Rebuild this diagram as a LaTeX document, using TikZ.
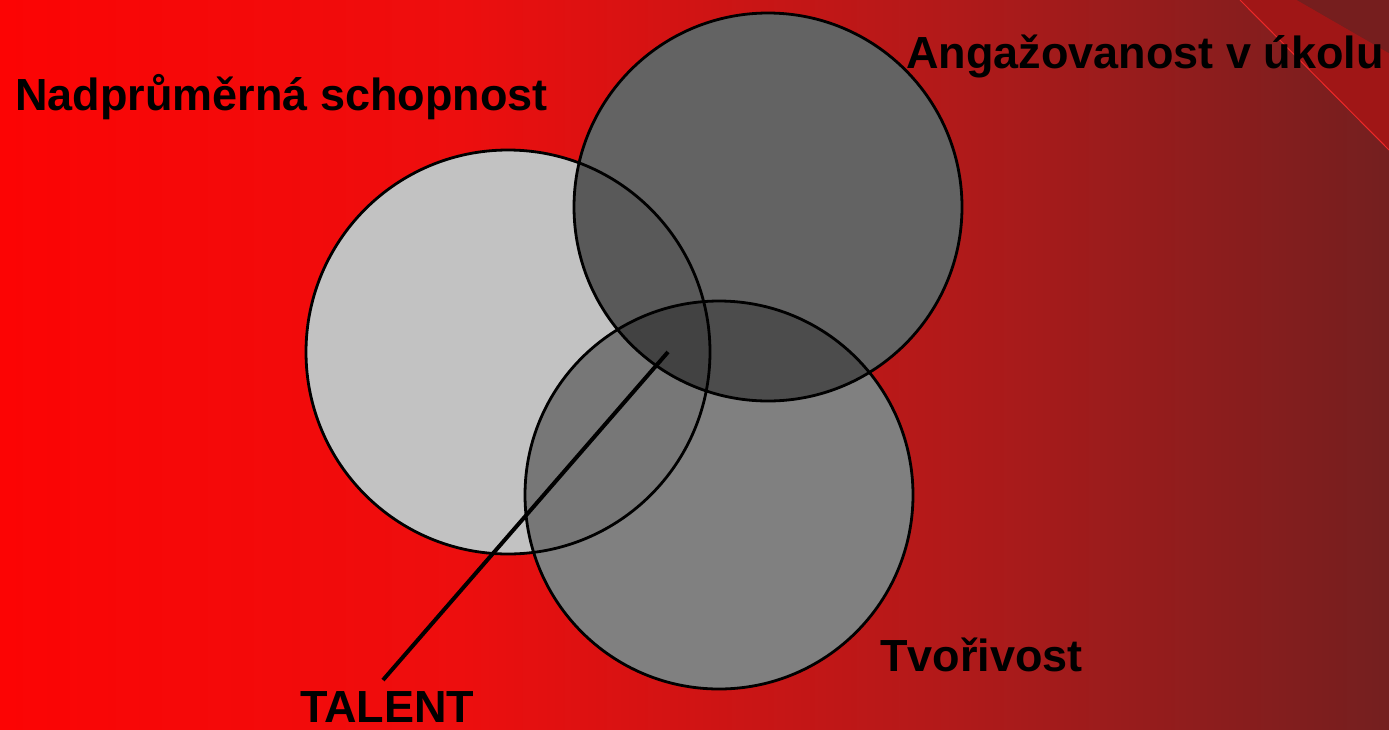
\documentclass[tikz,border=0pt]{standalone}
\usepackage{fontspec}
\setmainfont{Liberation Sans}
\usetikzlibrary{positioning}

\definecolor{bgleft}{RGB}{252,4,4}
\definecolor{bgmidA}{RGB}{237,14,14}
\definecolor{bgmidB}{RGB}{176,26,26}
\definecolor{bgright}{RGB}{116,31,31}
\definecolor{bandred}{RGB}{160,22,22}
\definecolor{cornerred}{RGB}{118,30,30}
\definecolor{edgered}{RGB}{236,40,40}
\definecolor{grayA}{RGB}{194,194,194}
\definecolor{grayB}{RGB}{99,99,99}
\definecolor{grayC}{RGB}{128,128,128}
\definecolor{grayAB}{RGB}{89,89,89}
\definecolor{grayAC}{RGB}{119,119,119}
\definecolor{grayBC}{RGB}{76,76,76}
\definecolor{grayABC}{RGB}{66,66,66}

\newcommand{\rA}{202}
\newcommand{\rB}{194}
\newcommand{\rC}{194}

\begin{document}
\begin{tikzpicture}[x=1pt, y=-1pt,
    lbl/.style={font=\bfseries\fontsize{45}{50}\selectfont, inner sep=0pt, anchor=base west},
    ring/.style={draw=black, line width=2.8pt},
    talentline/.style={draw=black, line width=4pt}]
  \useasboundingbox (0,0) rectangle (1389,729);
  % background
  \shade[left color=bgleft, right color=bgmidA] (0,0) rectangle (461,729);
  \shade[left color=bgmidA, right color=bgmidB] (460,0) rectangle (961,729);
  \shade[left color=bgmidB, right color=bgright] (960,0) rectangle (1389,729);
  \fill[bandred] (1240,0) -- (1389,150) -- (1389,53) -- (1297,0) -- cycle;
  \fill[cornerred] (1297,0) -- (1389,53) -- (1389,0) -- cycle;
  \draw[edgered, line width=1pt] (1240,0) -- (1389,150);

  \coordinate (cA) at (508,352);
  \coordinate (cB) at (768,207);
  \coordinate (cC) at (719,495);

  % circles
  \fill[grayA] (cA) circle[radius=\rA];
  \fill[grayB] (cB) circle[radius=\rB];
  \fill[grayC] (cC) circle[radius=\rC];
  \begin{scope}
    \clip (cA) circle[radius=\rA];
    \fill[grayAB] (cB) circle[radius=\rB];
    \fill[grayAC] (cC) circle[radius=\rC];
  \end{scope}
  \begin{scope}
    \clip (cB) circle[radius=\rB];
    \fill[grayBC] (cC) circle[radius=\rC];
    \clip (cA) circle[radius=\rA];
    \fill[grayABC] (cC) circle[radius=\rC];
  \end{scope}
  \draw[ring] (cA) circle[radius=\rA];
  \draw[ring] (cB) circle[radius=\rB];
  \draw[ring] (cC) circle[radius=\rC];

  % labels
  \node[lbl] (schopnost) at (15,110) {Nadprůměrná schopnost};
  \node[lbl] (angazovanost) at (906,68) {Angažovanost v úkolu};
  \node[lbl] (tvorivost) at (880,671) {Tvořivost};
  \node[lbl] (talent) at (300,722) {TALENT};

  \coordinate (core) at (668,352);
  \coordinate (tip) at (383,680);
  \draw[talentline] (core) -- (tip);
\end{tikzpicture}
\end{document}
